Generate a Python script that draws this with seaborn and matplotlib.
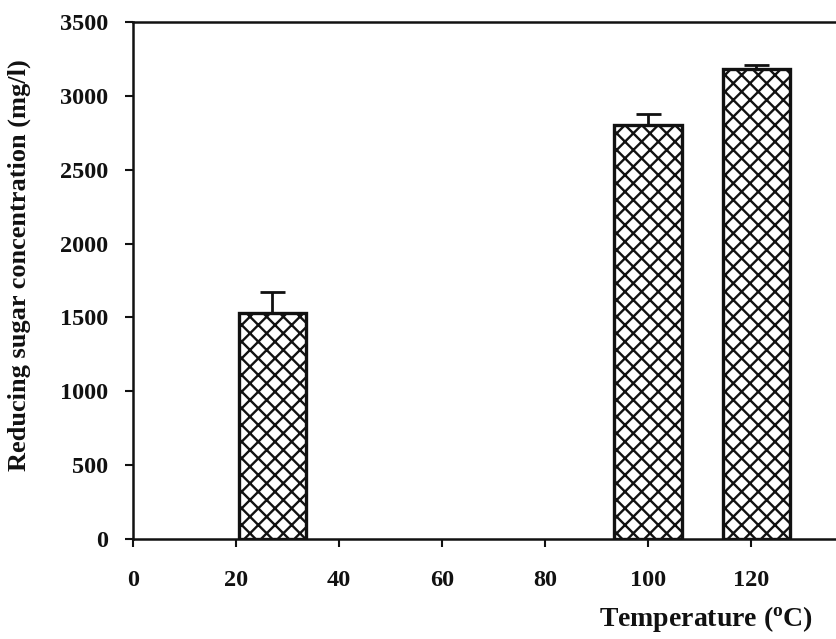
import matplotlib
matplotlib.use("Agg")
import matplotlib.pyplot as plt
import seaborn as sns
import pandas as pd

# Reducing sugar released at each pretreatment temperature
temperatures = [27, 100, 121]
sugar_mg_l = [1530, 2800, 3180]
sugar_sd = [145, 80, 28]

x_ticks = [0, 20, 40, 60, 80, 100, 120]
y_ticks = [0, 500, 1000, 1500, 2000, 2500, 3000, 3500]

sns.set_theme(style="ticks")
plt.rcParams["font.family"] = ["Liberation Serif", "DejaVu Serif"]
plt.rcParams["font.weight"] = "bold"
plt.rcParams["mathtext.fontset"] = "custom"
plt.rcParams["mathtext.rm"] = "Liberation Serif:bold"
plt.rcParams["hatch.linewidth"] = 1.7
plt.rcParams["hatch.color"] = "#1a1a1a"

df = pd.DataFrame({"temp": temperatures, "sugar": sugar_mg_l})

fig = plt.figure(figsize=(8.37, 6.39), dpi=100)
ax = fig.add_axes([0.159, 0.1565, 0.841, 0.809])

sns.barplot(data=df, x="temp", y="sugar", native_scale=True, width=0.62,
            color="white", edgecolor="#111111", linewidth=2.4,
            errorbar=None, ax=ax)
for p in ax.patches:
    p.set_hatch("xx")

ax.errorbar(temperatures, sugar_mg_l, yerr=[[0] * len(sugar_sd), sugar_sd],
            fmt="none", ecolor="#111111", elinewidth=2, capsize=9,
            capthick=2, zorder=3)

ax.set_xlim(0, 136.7)
ax.set_ylim(0, 3500)
ax.set_xticks(x_ticks)
ax.set_yticks(y_ticks)
ax.tick_params(axis="x", direction="out", length=6, width=1.5, pad=16,
               labelsize=17.5, colors="#111111")
ax.tick_params(axis="y", direction="out", length=6, width=1.5, pad=12,
               labelsize=17.5, colors="#111111")
for lbl in ax.get_xticklabels() + ax.get_yticklabels():
    lbl.set_fontweight("bold")

for side in ["left", "bottom", "top"]:
    ax.spines[side].set_linewidth(1.8)
    ax.spines[side].set_color("#111111")
ax.spines["right"].set_visible(False)

ax.set_xlabel(r"Temperature ($\mathregular{^o}$C)", fontsize=20,
              fontweight="bold", loc="right", color="#111111")
ax.xaxis.set_label_coords(0.966, -0.125)
ax.set_ylabel("Reducing sugar concentration (mg/l)", fontsize=19,
              fontweight="bold", color="#111111")
ax.yaxis.set_label_coords(-0.145, 0.53)

fig.savefig("out.png", dpi=100)
